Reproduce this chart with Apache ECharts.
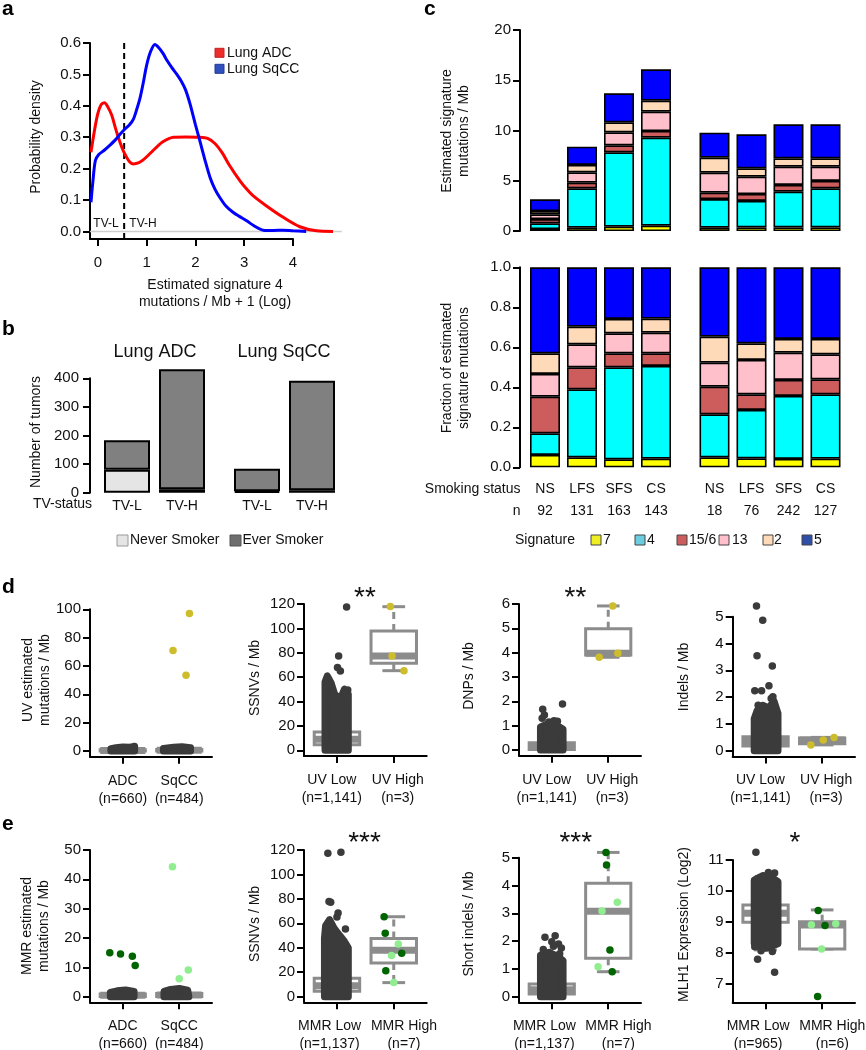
<!DOCTYPE html>
<html><head><meta charset="utf-8">
<script src="https://cdn.jsdelivr.net/npm/echarts@6/dist/echarts.min.js"></script>
<style>html,body{margin:0;padding:0;background:#fff}#c{width:866px;height:1050px}</style>
</head><body><div id="c"></div>
<script>
// ================= DATA =================
// ---- Panel a : density curves ----
const aADC = [[-0.14,0.252],[-0.07,0.32],[0.0,0.375],[0.07,0.404],[0.136,0.41],[0.2,0.398],[0.286,0.37],[0.36,0.33],[0.42,0.3],[0.5,0.265],[0.56,0.245],[0.65,0.222],[0.73,0.215],[0.83,0.218],[0.93,0.228],[1.05,0.245],[1.2,0.268],[1.35,0.287],[1.55,0.3],[1.8,0.301],[2.09,0.3],[2.25,0.296],[2.4,0.28],[2.55,0.25],[2.7,0.21],[2.91,0.162],[3.05,0.135],[3.18,0.114],[3.45,0.082],[3.8,0.045],[4.14,0.015],[4.48,0.002],[4.82,0]];
const aSqCC = [[-0.14,0.093],[-0.1,0.16],[-0.05,0.226],[0.02,0.245],[0.12,0.257],[0.25,0.275],[0.35,0.29],[0.46,0.31],[0.56,0.327],[0.65,0.34],[0.73,0.358],[0.8,0.39],[0.87,0.428],[0.94,0.48],[1.0,0.529],[1.08,0.572],[1.17,0.595],[1.25,0.585],[1.34,0.566],[1.42,0.544],[1.51,0.523],[1.62,0.5],[1.72,0.476],[1.8,0.45],[1.89,0.406],[2.0,0.34],[2.09,0.289],[2.2,0.225],[2.3,0.172],[2.4,0.135],[2.5,0.108],[2.63,0.08],[2.77,0.061],[2.9,0.048],[3.05,0.034],[3.2,0.018],[3.39,0.004],[3.6,0.003],[3.8,0.004],[4.0,0.002],[4.27,0]];
const aCutoff = 0.54;
const aXTicks = [0, 1, 2, 3, 4];
const aYTicks = [0, 0.1, 0.2, 0.3, 0.4, 0.5, 0.6];
const aXRange = [-0.16, 4];
const aXCurveRange = [-0.16, 5.0];
const aYRange = [-0.024, 0.6];
const aZeroLine = [-0.16, 5.0];

// ---- Panel b : tumour counts ----
const bCategories = ['TV-L', 'TV-H'];
const bNeverADC = [80, 12];
const bEverADC = [103, 420];
const bNeverSqCC = [5, 9];
const bEverSqCC = [79, 382];

// ---- Panel c : signatures by smoking status ----
const cCategories = ['NS', 'LFS', 'SFS', 'CS'];
const cNADC = [92, 131, 163, 143];
const cNSqCC = [18, 76, 242, 127];
const cSignatures = ['7', '4', '15/6', '13', '2', '5'];
const cRateADC = [
  [0.20, 0.33, 0.43, 0.53],
  [0.56, 3.92, 7.40, 8.76],
  [0.43, 0.56, 0.69, 0.66],
  [0.47, 1.03, 1.30, 1.92],
  [0.33, 0.73, 0.99, 1.10],
  [1.16, 1.82, 2.89, 3.12]];
const cRateSqCC = [
  [0.33, 0.36, 0.36, 0.36],
  [2.85, 2.63, 3.55, 3.89],
  [0.63, 0.69, 0.67, 0.73],
  [1.99, 1.73, 1.82, 1.42],
  [1.50, 0.83, 0.83, 0.83],
  [2.48, 3.38, 3.38, 3.38]];
const cFracADC = [
  [0.062, 0.050, 0.040, 0.043],
  [0.108, 0.340, 0.460, 0.464],
  [0.183, 0.110, 0.070, 0.063],
  [0.114, 0.115, 0.100, 0.103],
  [0.103, 0.088, 0.072, 0.070],
  [0.430, 0.297, 0.258, 0.257]];
const cFracSqCC = [
  [0.050, 0.045, 0.042, 0.043],
  [0.215, 0.242, 0.315, 0.322],
  [0.138, 0.078, 0.080, 0.075],
  [0.120, 0.172, 0.136, 0.125],
  [0.130, 0.083, 0.069, 0.077],
  [0.347, 0.380, 0.358, 0.358]];

// ---- Panel d : UV ----
const d1Labels = ['ADC\n(n=660)', 'SqCC\n(n=484)'];
const d1LabelPos = [1, 2];
const d1YTicks = [0, 20, 40, 60, 80, 100];
const d1Boxes = [[1, 0, 0.1, 0.4, 0.9, 2.5], [2, 0, 0.1, 0.5, 1.0, 2.5]];
const d1CloudADC = [[-0.21,0],[0.21,0],[0.21,3.4],[0.12,2.6],[0,2.8],[-0.12,2.3],[-0.21,1.7]];
const d1CloudSqCC = [[-0.28,0],[0.2,0],[0.2,2.3],[0.05,3.0],[-0.1,2.6],[-0.28,1.8]];
const d1HighPts = [[0.18,97.0],[-0.11,71.0],[0.12,53.4]];

const dLabels = ['UV Low\n(n=1,141)', 'UV High\n(n=3)'];
const dLabelPos = [0.91, 2.07];
const d2YTicks = [0, 20, 40, 60, 80, 100, 120];
const d2Boxes = [[1, 0, 4.5, 9, 15, 31], [2, 65.3, 71.3, 77.4, 97.8, 117.8]];
const d2CloudLow = [[-0.21,0],[0.2,0],[0.2,46],[0.13,50],[0.06,42],[-0.04,46],[-0.1,55],[-0.17,61],[-0.21,56]];
const d2LowOutliers = [[0.17,117.5],[0.03,77.3],[0.01,68],[0.06,65],[0.19,49.5]];
const d2HighPts = [[-0.06,118],[-0.03,77.4],[0.18,65.3]];

const d3YTicks = [0, 1, 2, 3, 4, 5, 6];
const d3Boxes = [[1, 0, 0.02, 0.12, 0.3, 0.7], [2, 3.81, 3.9, 3.98, 4.98, 5.92]];
const d3CloudLow = [[-0.2,0],[0.2,0],[0.2,0.85],[0.1,1.0],[0,1.1],[-0.1,1.05],[-0.2,0.95]];
const d3LowOutliers = [[0.19,1.89],[-0.16,1.67],[-0.13,1.44],[-0.17,1.3],[0.04,1.2],[0.1,1.18],[-0.05,1.15]];
const d3HighPts = [[-0.16,3.81],[0.17,3.98],[0.08,5.92]];

const d4YTicks = [0, 1, 2, 3, 4, 5];
const d4Boxes = [[1, 0, 0.18, 0.35, 0.52, 1.1], [2, 0.22, 0.26, 0.40, 0.48, 0.50]];
const d4CloudLow = [[-0.2,0],[0.22,0],[0.22,1.4],[0.15,1.85],[0.05,1.6],[-0.05,1.7],[-0.15,1.5],[-0.2,1.2]];
const d4LowOutliers = [[-0.16,5.40],[-0.05,4.87],[-0.15,3.54],[0.12,3.16],[0.06,2.43],[-0.19,2.24],[-0.07,2.24],[0.13,2.02],[0.1,1.95],[-0.13,1.7]];
const d4HighPts = [[-0.2,0.22],[0.02,0.40],[0.21,0.50]];

// ---- Panel e : MMR ----
const e1Labels = ['ADC\n(n=660)', 'SqCC\n(n=484)'];
const e1LabelPos = [1, 2];
const e1YTicks = [0, 10, 20, 30, 40, 50];
const e1Boxes = [[1, 0, 0.1, 0.5, 0.9, 2], [2, 0, 0.1, 0.6, 1.1, 2.3]];
const e1CloudADC = [[-0.22,0],[0.2,0],[0.2,1.8],[0.05,2.3],[-0.1,2.0],[-0.22,1.5]];
const e1CloudSqCC = [[-0.27,0],[0.17,0],[0.15,2.2],[0,2.8],[-0.15,2.5],[-0.27,1.8]];
const e1ADCPts = [[-0.23,15.0],[-0.04,14.6],[0.17,13.8],[0.22,10.6]];
const e1SqCCPts = [[-0.12,44.3],[0,6.1],[0.16,9.1]];

const eLabels = ['MMR Low\n(n=1,137)', 'MMR High\n(n=7)'];
const e4Labels = ['MMR Low\n(n=965)', 'MMR High\n(n=6)'];
const eLabelPos = [0.87, 2.18];
const e2YTicks = [0, 20, 40, 60, 80, 100, 120];
const e2Boxes = [[1, 0, 4.5, 9, 15, 31], [2, 11.5, 27.5, 38, 47.6, 65.4]];
const e2CloudLow = [[-0.22,0],[0.2,0],[0.2,40],[0.12,46],[0.05,50],[-0.05,56],[-0.13,63],[-0.2,58],[-0.22,48]];
const e2LowOutliers = [[-0.16,117.3],[0.07,118.2],[-0.14,77.8],[-0.11,77.2],[0.02,68.4],[0.0,65.1],[0.15,55.4]];
const e2HighDark = [[-0.17,65.4],[-0.15,51.8],[0.14,35.5],[-0.14,21.3]];
const e2HighLight = [[0.08,43.1],[-0.04,33.6],[0,11.5]];

const e3YTicks = [0, 1, 2, 3, 4, 5];
const e3Boxes = [[1, 0, 0.1, 0.25, 0.46, 1.0], [2, 0.9, 1.38, 3.07, 4.08, 5.19]];
const e3CloudLow = [[-0.2,0],[0.2,0],[0.2,1.3],[0.1,1.45],[-0.05,1.6],[-0.2,1.5]];
const e3LowOutliers = [[-0.12,2.14],[0.06,2.19],[0,1.98],[0.12,1.9],[0.03,1.82],[-0.15,1.7],[0.17,1.75],[0.14,1.55]];
const e3HighDark = [[-0.04,5.19],[-0.03,4.74],[0.03,1.68],[0.07,0.9]];
const e3HighLight = [[0.16,3.40],[-0.11,3.08],[-0.18,1.08]];

const e4YTicks = [7, 8, 9, 10, 11];
const e4Boxes = [[1, 8.1, 8.99, 9.28, 9.55, 10.4], [2, 8.13, 8.13, 8.9, 9.01, 9.39]];
const e4CloudLow = [[-0.2,8.3],[0,8.15],[0.22,8.3],[0.22,10.3],[0.1,10.45],[-0.05,10.5],[-0.2,10.35]];
const e4LowOutliers = [[-0.17,11.25],[-0.14,7.8],[0.16,7.38],[0.05,10.6],[0.16,10.58],[-0.14,10.4],[-0.08,8.07],[0.12,8.05],[-0.19,8.2]];
const e4HighDark = [[-0.07,9.37],[0.05,8.89],[-0.08,6.6]];
const e4HighLight = [[-0.19,8.91],[0.24,8.94],[-0.01,8.13]];

// ================= STYLE =================
const F = '"Liberation Sans", Arial, Helvetica, sans-serif';
const TXT = '#111';
const AXS = {color: '#000', width: 2};
const BOXC = '#8c8c8c';
const CLOUD = '#3b3b3b';
const YEL = '#cdbd2c';
const DKG = '#006400';
const LTG = '#90ee90';
const cBarColors = ['#ffff00', '#00ffff', '#cd5c5c', '#ffc0cb', '#ffdab9', '#0000ff'];
const cLegendColors = ['#eeee22', '#6ccce0', '#cd5c5c', '#ffc0cb', '#ffdab9', '#2f4ea8'];

// ================= LAYOUT =================
const aPxPerUnit = 203 / (aXRange[1] - aXRange[0]);
const grids = [
  {left: 90, top: 43, width: 203, height: 196},        // 0 a (axes)
  {left: 99.5, top: 378.3, width: 110, height: 114.4}, // 1 b ADC
  {left: 229.5, top: 378.3, width: 110, height: 114.4},// 2 b SqCC
  {left: 526.5, top: 30, width: 148, height: 201},     // 3 c top ADC
  {left: 696, top: 30, width: 148, height: 201},       // 4 c top SqCC
  {left: 526.5, top: 267.3, width: 148, height: 200},  // 5 c bottom ADC
  {left: 696, top: 267.3, width: 148, height: 200},    // 6 c bottom SqCC
  {left: 90, top: 609.3, width: 122, height: 147.4},   // 7 d1
  {left: 304, top: 604, width: 122.7, height: 152},    // 8 d2
  {left: 519, top: 604, width: 122, height: 151.8},    // 9 d3
  {left: 732.7, top: 616.7, width: 122.3, height: 139.9}, // 10 d4
  {left: 90, top: 850, width: 122, height: 152.3},     // 11 e1
  {left: 304, top: 850, width: 122.7, height: 152.3},  // 12 e2
  {left: 519, top: 857.7, width: 122, height: 144.6},  // 13 e3
  {left: 732.7, top: 860, width: 122.3, height: 142.3},// 14 e4
  {left: 90, top: 43, width: aPxPerUnit * (aXCurveRange[1] - aXCurveRange[0]), height: 196} // 15 a (curves, wider)
].map(g => Object.assign({containLabel: false, outerBoundsMode: 'none'}, g));

const xAxes = [], yAxes = [], series = [];

function tickLbl(extra) {
  return Object.assign({fontSize: 15, fontFamily: F, color: TXT}, extra);
}
// --- a
xAxes.push({type: 'value', gridIndex: 0, min: aXRange[0], max: aXRange[1],
  axisLine: {show: true, onZero: false, lineStyle: AXS},
  axisTick: {show: true, length: 7, lineStyle: AXS, customValues: aXTicks},
  axisLabel: tickLbl({customValues: aXTicks, margin: 16}), splitLine: {show: false}});
yAxes.push({type: 'value', gridIndex: 0, min: aYRange[0], max: aYRange[1],
  axisLine: {show: true, onZero: false, lineStyle: AXS},
  axisTick: {show: true, length: 7, lineStyle: AXS, customValues: aYTicks},
  axisLabel: tickLbl({customValues: aYTicks, margin: 9, formatter: v => v.toFixed(1)}), splitLine: {show: false}});
// --- b
[1, 2].forEach(gi => {
  xAxes.push({type: 'category', gridIndex: gi, data: bCategories,
    axisLine: {show: false}, axisTick: {show: false},
    axisLabel: {interval: 0, fontSize: 14, fontFamily: F, color: TXT, margin: 6}, splitLine: {show: false}});
  yAxes.push({type: 'value', gridIndex: gi, min: 0, max: 400, interval: 100, show: gi === 1, offset: 9.5,
    axisLine: {show: true, onZero: false, lineStyle: AXS},
    axisTick: {show: true, length: 7, lineStyle: AXS},
    axisLabel: tickLbl({margin: 11}), splitLine: {show: false}});
});
// --- c
[3, 4].forEach(gi => {
  xAxes.push({type: 'category', gridIndex: gi, data: cCategories, show: false});
  yAxes.push({type: 'value', gridIndex: gi, min: 0, max: 20, interval: 5, show: gi === 3, offset: 6.5,
    axisLine: {show: true, onZero: false, lineStyle: AXS},
    axisTick: {show: true, length: 7, lineStyle: AXS},
    axisLabel: tickLbl({margin: 9}), splitLine: {show: false}});
});
[5, 6].forEach(gi => {
  const ns = gi === 5 ? cNADC : cNSqCC;
  xAxes.push({type: 'category', gridIndex: gi, data: cCategories,
    axisLine: {show: false}, axisTick: {show: false},
    axisLabel: {interval: 0, margin: 11, formatter: (v, i) => '{a|' + v + '}\n{a|' + ns[i] + '}',
      rich: {a: {fontSize: 14, fontFamily: F, color: TXT, lineHeight: 22}}}, splitLine: {show: false}});
  yAxes.push({type: 'value', gridIndex: gi, min: 0, max: 1, interval: 0.2, show: gi === 5, offset: 6.5,
    axisLine: {show: true, onZero: false, lineStyle: AXS},
    axisTick: {show: true, length: 7, lineStyle: AXS},
    axisLabel: tickLbl({margin: 9, formatter: v => v.toFixed(1)}), splitLine: {show: false}});
});

// --- d/e helpers
function boxRender(params, api) {
  const x = api.value(0), lo = api.value(1), q1 = api.value(2), md = api.value(3), q3 = api.value(4), hi = api.value(5);
  const c = p => api.coord(p);
  const ln = (a, b, w, dash) => ({type: 'line', shape: {x1: a[0], y1: a[1], x2: b[0], y2: b[1]},
    style: {stroke: BOXC, lineWidth: w, lineDash: dash || null}});
  const tl = c([x - 0.4, q3]), br = c([x + 0.4, q1]);
  return {type: 'group', children: [
    ln(c([x, q3]), c([x, hi]), 3, [7, 5]),
    ln(c([x, q1]), c([x, lo]), 3, [7, 5]),
    ln(c([x - 0.2, hi]), c([x + 0.2, hi]), 3),
    ln(c([x - 0.2, lo]), c([x + 0.2, lo]), 3),
    {type: 'rect', shape: {x: tl[0], y: tl[1], width: br[0] - tl[0], height: br[1] - tl[1]}, style: {fill: '#fff', stroke: null}},
    ln(c([x - 0.4, md]), c([x + 0.4, md]), 7),
    {type: 'rect', shape: {x: tl[0], y: tl[1], width: br[0] - tl[0], height: br[1] - tl[1]}, style: {fill: null, stroke: BOXC, lineWidth: 3}}
  ]};
}
function cloudSeries(gi, pos, poly) {
  return {type: 'custom', coordinateSystem: 'cartesian2d', xAxisIndex: gi, yAxisIndex: gi, z: 3, silent: true,
    data: [[pos, poly[0][1]]],
    renderItem: (params, api) => ({type: 'polygon',
      shape: {points: poly.map(p => api.coord([pos + p[0], p[1]]))},
      style: {fill: CLOUD, stroke: CLOUD, lineWidth: 7, lineJoin: 'round'}})};
}
function ptSeries(gi, pos, arr, color) {
  return {type: 'scatter', xAxisIndex: gi, yAxisIndex: gi, z: 4, silent: true, clip: false,
    data: arr.map(p => [pos + p[0], p[1]]), symbolSize: 7.5,
    itemStyle: {color: color, opacity: 1, borderWidth: 0}};
}
const boxPanels = [
  {g: 7, min: -4, max: 100, ticks: d1YTicks, labels: d1Labels, lpos: d1LabelPos, boxes: d1Boxes,
   clouds: [[1, d1CloudADC], [2, d1CloudSqCC]], pts: [[2, d1HighPts, YEL]]},
  {g: 8, min: -4.7, max: 120, ticks: d2YTicks, labels: dLabels, lpos: dLabelPos, boxes: d2Boxes,
   clouds: [[1, d2CloudLow]], pts: [[1, d2LowOutliers, CLOUD], [2, d2HighPts, YEL]]},
  {g: 9, min: -0.24, max: 6, ticks: d3YTicks, labels: dLabels, lpos: dLabelPos, boxes: d3Boxes,
   clouds: [[1, d3CloudLow]], pts: [[1, d3LowOutliers, CLOUD], [2, d3HighPts, YEL]]},
  {g: 10, min: -0.216, max: 5, ticks: d4YTicks, labels: dLabels, lpos: dLabelPos, boxes: d4Boxes,
   clouds: [[1, d4CloudLow]], pts: [[1, d4LowOutliers, CLOUD], [2, d4HighPts, YEL]]},
  {g: 11, min: -1.9, max: 50, ticks: e1YTicks, labels: e1Labels, lpos: e1LabelPos, boxes: e1Boxes,
   clouds: [[1, e1CloudADC], [2, e1CloudSqCC]], pts: [[1, e1ADCPts, DKG], [2, e1SqCCPts, LTG]]},
  {g: 12, min: -4.6, max: 120, ticks: e2YTicks, labels: eLabels, lpos: eLabelPos, boxes: e2Boxes,
   clouds: [[1, e2CloudLow]], pts: [[1, e2LowOutliers, CLOUD], [2, e2HighDark, DKG], [2, e2HighLight, LTG]]},
  {g: 13, min: -0.2, max: 5, ticks: e3YTicks, labels: eLabels, lpos: eLabelPos, boxes: e3Boxes,
   clouds: [[1, e3CloudLow]], pts: [[1, e3LowOutliers, CLOUD], [2, e3HighDark, DKG], [2, e3HighLight, LTG]]},
  {g: 14, min: 6.41, max: 11, ticks: e4YTicks, labels: e4Labels, lpos: eLabelPos, boxes: e4Boxes,
   clouds: [[1, e4CloudLow]], pts: [[1, e4LowOutliers, CLOUD], [2, e4HighDark, DKG], [2, e4HighLight, LTG]]}
];
boxPanels.forEach(P => {
  xAxes.push({type: 'value', gridIndex: P.g, min: 0.42, max: 2.58,
    axisLine: {show: true, onZero: false, lineStyle: AXS},
    axisTick: {show: true, length: 7, lineStyle: AXS, customValues: [1, 2]},
    axisLabel: {customValues: P.lpos, formatter: v => (v < 1.5 ? P.labels[0] : P.labels[1]),
      fontSize: 14, fontFamily: F, color: TXT, margin: 15, lineHeight: 18},
    splitLine: {show: false}});
  yAxes.push({type: 'value', gridIndex: P.g, min: P.min, max: P.max,
    axisLine: {show: true, onZero: false, lineStyle: AXS},
    axisTick: {show: true, length: 7, lineStyle: AXS, customValues: P.ticks},
    axisLabel: tickLbl({customValues: P.ticks, margin: 9}), splitLine: {show: false}});
  series.push({type: 'custom', coordinateSystem: 'cartesian2d', xAxisIndex: P.g, yAxisIndex: P.g, z: 2, silent: true,
    data: P.boxes, encode: {x: 0, y: [1, 2, 3, 4, 5]}, renderItem: boxRender});
  P.clouds.forEach(cl => series.push(cloudSeries(P.g, cl[0], cl[1])));
  P.pts.forEach(pt => series.push(ptSeries(P.g, pt[0], pt[1], pt[2])));
});

// --- a curves grid (15): same scale as grid 0, wider extent so curves run past x = 4
xAxes.push({type: 'value', gridIndex: 15, min: aXCurveRange[0], max: aXCurveRange[1], show: false});
yAxes.push({type: 'value', gridIndex: 15, min: aYRange[0], max: aYRange[1], show: false});

// --- a series
series.push({type: 'line', xAxisIndex: 15, yAxisIndex: 15, data: aZeroLine.map(x => [x, 0]), showSymbol: false,
  silent: true, z: 1, lineStyle: {color: '#cfcfcf', width: 1.5}});
series.push({type: 'line', xAxisIndex: 0, yAxisIndex: 0, data: [[aCutoff, aYRange[0]], [aCutoff, aYRange[1]]],
  showSymbol: false, silent: true, z: 2, lineStyle: {color: '#000', width: 2, type: [6, 4]}});
series.push({type: 'line', xAxisIndex: 15, yAxisIndex: 15, data: aADC, smooth: 0.3, showSymbol: false,
  silent: true, z: 3, lineStyle: {color: '#ff0000', width: 3}});
series.push({type: 'line', xAxisIndex: 15, yAxisIndex: 15, data: aSqCC, smooth: 0.3, showSymbol: false,
  silent: true, z: 4, lineStyle: {color: '#0000ff', width: 3}});

// --- b series
function bBar(gi, stack, data, color) {
  return {type: 'bar', xAxisIndex: gi, yAxisIndex: gi, stack: stack, data: data, barWidth: 46, clip: false, silent: true,
    itemStyle: {color: color, borderColor: '#000', borderWidth: 2}};
}
series.push(bBar(1, 'b1', bNeverADC, '#e5e5e5'), bBar(1, 'b1', bEverADC, '#808080'));
series.push(bBar(2, 'b2', bNeverSqCC, '#e5e5e5'), bBar(2, 'b2', bEverSqCC, '#808080'));

// --- c series
function cBar(gi, stack, data, k) {
  return {type: 'bar', xAxisIndex: gi, yAxisIndex: gi, stack: stack, data: data, barWidth: 30, clip: false, silent: true,
    itemStyle: {color: cBarColors[k], borderColor: '#000', borderWidth: 1.6}};
}
cSignatures.forEach((s, k) => {
  series.push(cBar(3, 'ct1', cRateADC[k], k));
  series.push(cBar(4, 'ct2', cRateSqCC[k], k));
  series.push(cBar(5, 'cb1', cFracADC[k], k));
  series.push(cBar(6, 'cb2', cFracSqCC[k], k));
});

// ================= TEXT / LEGENDS =================
const graphics = [];
function txt(x, y, s, o) {
  o = o || {};
  graphics.push({type: 'text', x: x, y: y, rotation: o.rot || 0, silent: true,
    style: {text: s, x: 0, y: 0, fill: o.color || TXT, fontSize: o.size || 14, fontFamily: F,
      fontWeight: o.weight || 'normal', align: o.align || 'center', verticalAlign: 'middle',
      textAlign: o.align || 'center', textVerticalAlign: 'middle'}});
}
function sq(x, y, w, fill, stroke) {
  graphics.push({type: 'rect', silent: true, shape: {x: x, y: y, width: w, height: w},
    style: {fill: fill, stroke: stroke, lineWidth: 1}});
}
const R90 = Math.PI / 2;
// panel letters
txt(2, 9, 'a', {size: 21, weight: 'bold', align: 'left', color: '#000'});
txt(2, 329.5, 'b', {size: 21, weight: 'bold', align: 'left', color: '#000'});
txt(424, 9, 'c', {size: 21, weight: 'bold', align: 'left', color: '#000'});
txt(2, 587.5, 'd', {size: 21, weight: 'bold', align: 'left', color: '#000'});
txt(2, 824.5, 'e', {size: 21, weight: 'bold', align: 'left', color: '#000'});
// a
sq(215, 48.3, 9, '#ee2c2c', '#c02020'); txt(227, 53.3, 'Lung ADC', {align: 'left'});
sq(215, 64.3, 9, '#3050c0', '#203890'); txt(227, 69.3, 'Lung SqCC', {align: 'left'});
txt(106, 224, 'TV-L', {size: 12});
txt(143, 224, 'TV-H', {size: 12});
txt(215, 285, 'Estimated signature 4');
txt(215, 302, 'mutations / Mb + 1 (Log)');
txt(36, 137, 'Probability density', {rot: R90});
// b
txt(155, 352, 'Lung ADC', {size: 18});
txt(284, 352, 'Lung SqCC', {size: 18});
txt(36, 432, 'Number of tumors', {rot: R90});
txt(62.5, 504, 'TV-status');
sq(117, 535, 11, '#e5e5e5', '#999'); txt(130, 540.5, 'Never Smoker', {align: 'left'});
sq(230, 535, 11, '#6e6e6e', '#555'); txt(242.5, 540.5, 'Ever Smoker', {align: 'left'});
// c
txt(447.5, 131, 'Estimated signature', {rot: R90});
txt(464, 131, 'mutations / Mb', {rot: R90});
txt(447.5, 368, 'Fraction of estimated', {rot: R90});
txt(464, 368, 'signature mutations', {rot: R90});
txt(520.5, 489, 'Smoking status', {align: 'right'});
txt(520.5, 511, 'n', {align: 'right'});
txt(515, 540.5, 'Signature', {align: 'left'});
const cLegX = [591, 635, 677, 719, 763, 802];
const cLegTX = [603, 647, 689, 732, 774, 814];
cSignatures.forEach((s, k) => {
  sq(cLegX[k], 535, 10, cLegendColors[k], '#444');
  txt(cLegTX[k], 540.5, s, {align: 'left'});
});
// d
txt(28, 680, 'UV estimated', {rot: R90});
txt(44.7, 680, 'mutations / Mb', {rot: R90});
txt(254.7, 678, 'SSNVs / Mb', {rot: R90});
txt(469, 676, 'DNPs / Mb', {rot: R90});
txt(684, 677, 'Indels / Mb', {rot: R90});
txt(365, 598.5, '**', {size: 28});
txt(575.5, 598.5, '**', {size: 28});
// e
txt(26.7, 926, 'MMR estimated', {rot: R90});
txt(44.2, 926, 'mutations / Mb', {rot: R90});
txt(254.7, 924, 'SSNVs / Mb', {rot: R90});
txt(468.8, 924, 'Short indels / Mb', {rot: R90});
txt(683.7, 924.5, 'MLH1 Expression (Log2)', {rot: R90});
txt(364.5, 843.5, '***', {size: 28});
txt(575.8, 843.5, '***', {size: 28});
txt(795, 843.5, '*', {size: 28});

// ================= CHART =================
const chart = echarts.init(document.getElementById('c'), null, {renderer: 'canvas', width: 866, height: 1050});
chart.setOption({
  animation: false,
  backgroundColor: '#fff',
  textStyle: {fontFamily: F},
  grid: grids,
  xAxis: xAxes,
  yAxis: yAxes,
  series: series,
  graphic: graphics
});
</script></body></html>
